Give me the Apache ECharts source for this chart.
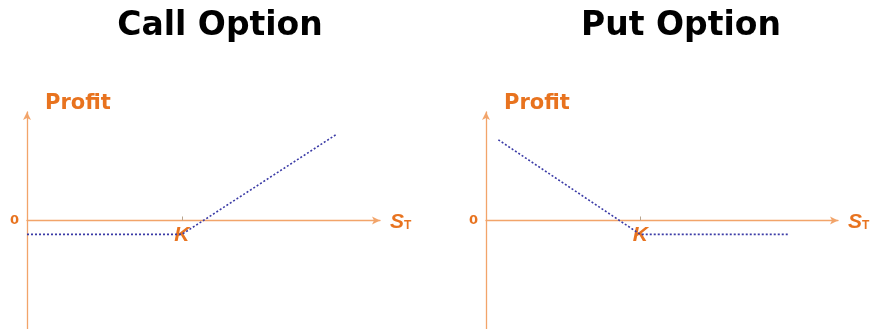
<!DOCTYPE html>
<html>
<head>
<meta charset="utf-8">
<script src="https://cdn.jsdelivr.net/npm/echarts@6/dist/echarts.min.js"></script>
<style>
  html, body { margin: 0; padding: 0; background: #fff; }
  #main { width: 873px; height: 329px; }
</style>
</head>
<body>
<div id="main"></div>
<script>
    // payoff diagrams, x = stock price at expiry, y = profit
    var titles = ['Call Option', 'Put Option'];
    var xTickValues = [50];
    var xTickLabels = ['K'];
    var yTickValues = [0];
    var yTickLabels = ['0'];
    var callPayoff = [[0, -5], [50, -5], [100, 31]];
    var putPayoff = [[4, 29], [50, -5], [98, -5]];

    var axisColor = '#F2A46A';
    var textColor = '#E8731F';
    var lineColor = '#3B3BA6';

    var chart = echarts.init(document.getElementById('main'), null, {renderer: 'canvas'});

    function makeXAxis(idx) {
        return {
            type: 'value',
            gridIndex: idx,
            min: 0,
            max: 114,
            name: '{s|S}{t|T}',
            nameLocation: 'end',
            nameGap: 10,
            nameTextStyle: {
                rich: {
                    s: {fontFamily: 'Liberation Sans', fontWeight: 'bold', fontStyle: 'italic', fontSize: 21, color: textColor, padding: [4, 0, 0, 0]},
                    t: {fontFamily: 'Liberation Sans', fontWeight: 'bold', fontSize: 12, color: textColor, padding: [11, 0, 0, 0]}
                }
            },
            axisLine: {
                onZero: true,
                symbol: ['none', 'arrow'],
                symbolSize: [6, 8],
                lineStyle: {color: axisColor, width: 1.3}
            },
            axisTick: {
                show: true,
                inside: true,
                length: 4,
                customValues: xTickValues,
                lineStyle: {color: '#B9A58E', width: 1}
            },
            axisLabel: {
                show: true,
                customValues: xTickValues,
                // label stays at the grid edge, pull it up under the zero line
                margin: -104,
                formatter: function (v) { return xTickLabels[xTickValues.indexOf(v)]; },
                fontFamily: 'Liberation Sans',
                fontWeight: 'bold',
                fontStyle: 'italic',
                fontSize: 21,
                color: textColor
            },
            splitLine: {show: false}
        };
    }

    function makeYAxis(idx) {
        return {
            type: 'value',
            gridIndex: idx,
            min: -39,
            max: 39,
            name: 'Profit',
            nameLocation: 'end',
            nameGap: -2,
            nameTextStyle: {
                align: 'left',
                verticalAlign: 'bottom',
                padding: [0, 0, 0, 18],
                fontFamily: 'DejaVu Sans',
                fontWeight: 'bold',
                fontSize: 21,
                color: textColor
            },
            axisLine: {
                onZero: false,
                symbol: ['none', 'arrow'],
                symbolSize: [6, 8],
                lineStyle: {color: axisColor, width: 1.3}
            },
            axisTick: {show: false},
            axisLabel: {
                show: true,
                customValues: yTickValues,
                margin: 8,
                formatter: function (v) { return yTickLabels[yTickValues.indexOf(v)]; },
                fontFamily: 'DejaVu Sans',
                fontWeight: 'bold',
                fontSize: 13,
                color: textColor
            },
            splitLine: {show: false}
        };
    }

    function makeSeries(idx, data) {
        return {
            type: 'line',
            xAxisIndex: idx,
            yAxisIndex: idx,
            data: data,
            showSymbol: false,
            silent: true,
            z: 3,
            lineStyle: {color: lineColor, width: 1.6, type: [2, 2]}
        };
    }

    var option = {
        animation: false,
        backgroundColor: '#fff',
        title: [
            {text: titles[0], left: 215, top: 5, textAlign: 'center',
             textStyle: {fontFamily: 'DejaVu Sans', fontWeight: 'bold', fontSize: 33, color: '#000'}},
            {text: titles[1], left: 676, top: 5, textAlign: 'center',
             textStyle: {fontFamily: 'DejaVu Sans', fontWeight: 'bold', fontSize: 33, color: '#000'}}
        ],
        grid: [
            {left: 27, top: 112, width: 353, height: 217, outerBoundsMode: 'none'},
            {left: 486, top: 112, width: 352, height: 217, outerBoundsMode: 'none'}
        ],
        xAxis: [makeXAxis(0), makeXAxis(1)],
        yAxis: [makeYAxis(0), makeYAxis(1)],
        series: [makeSeries(0, callPayoff), makeSeries(1, putPayoff)]
    };

    chart.setOption(option);
</script>
</body>
</html>
